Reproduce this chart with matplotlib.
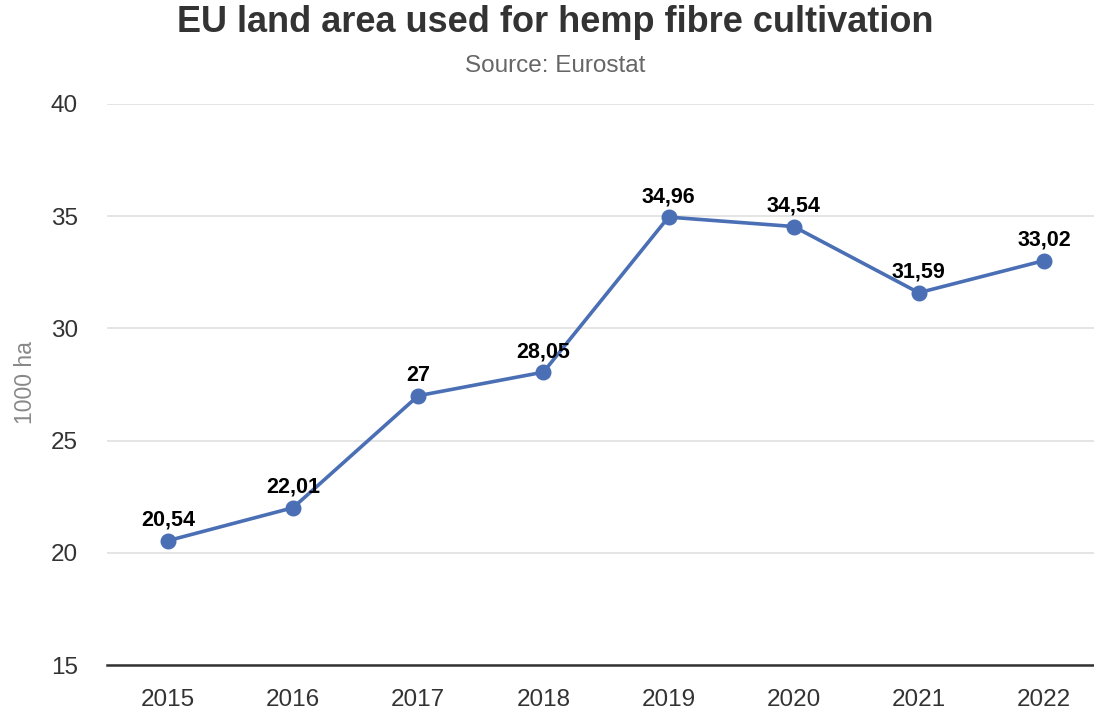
import matplotlib.pyplot as plt

plt.rcParams['font.family'] = ['Liberation Sans', 'DejaVu Sans']

years = ['2015', '2016', '2017', '2018', '2019', '2020', '2021', '2022']
area = [20.54, 22.01, 27, 28.05, 34.96, 34.54, 31.59, 33.02]
yticks = [15, 20, 25, 30, 35, 40]

fig = plt.figure(figsize=(10.94, 7.19), dpi=100)
ax = fig.add_axes([107 / 1094, 1 - 665 / 719, (1094 - 107) / 1094, (665 - 104) / 719])

x = list(range(len(years)))
ax.plot(x, area, color='#4a6fb5', linewidth=2.6, marker='o', markersize=10.5, zorder=3)

for xi, v in zip(x, area):
    label = f'{v:g}'.replace('.', ',')
    ax.annotate(label, (xi, v), xytext=(0, 7), textcoords='offset points',
                ha='center', va='bottom', fontsize=15.5, fontweight='bold', color='black', zorder=4)

ax.set_xlim(-0.487, 7.40)
ax.set_ylim(15, 40)
ax.set_xticks(x)
ax.set_xticklabels(years)
ax.set_yticks(yticks)
ax.grid(axis='y', color='#e0e0e0', linewidth=1.2)
ax.set_axisbelow(True)
for s in ['top', 'right', 'left']:
    ax.spines[s].set_visible(False)
ax.spines['bottom'].set_color('#333333')
ax.spines['bottom'].set_linewidth(1.8)
ax.tick_params(axis='both', length=0, labelsize=17.5, labelcolor='#333333')
ax.tick_params(axis='x', pad=17)
ax.tick_params(axis='y', pad=21)

fig.text(26 / 1094, 1 - 383 / 719, '1000 ha', rotation=90, ha='center', va='center',
         fontsize=16.5, color='#888888')
fig.text(555 / 1094, 1 - 23 / 719, 'EU land area used for hemp fibre cultivation', ha='center', va='center',
         fontsize=26, fontweight='bold', color='#333333')
fig.text(555 / 1094, 1 - 66 / 719, 'Source: Eurostat', ha='center', va='center', fontsize=17.5, color='#666666')

fig.savefig('out.png', dpi=100)
